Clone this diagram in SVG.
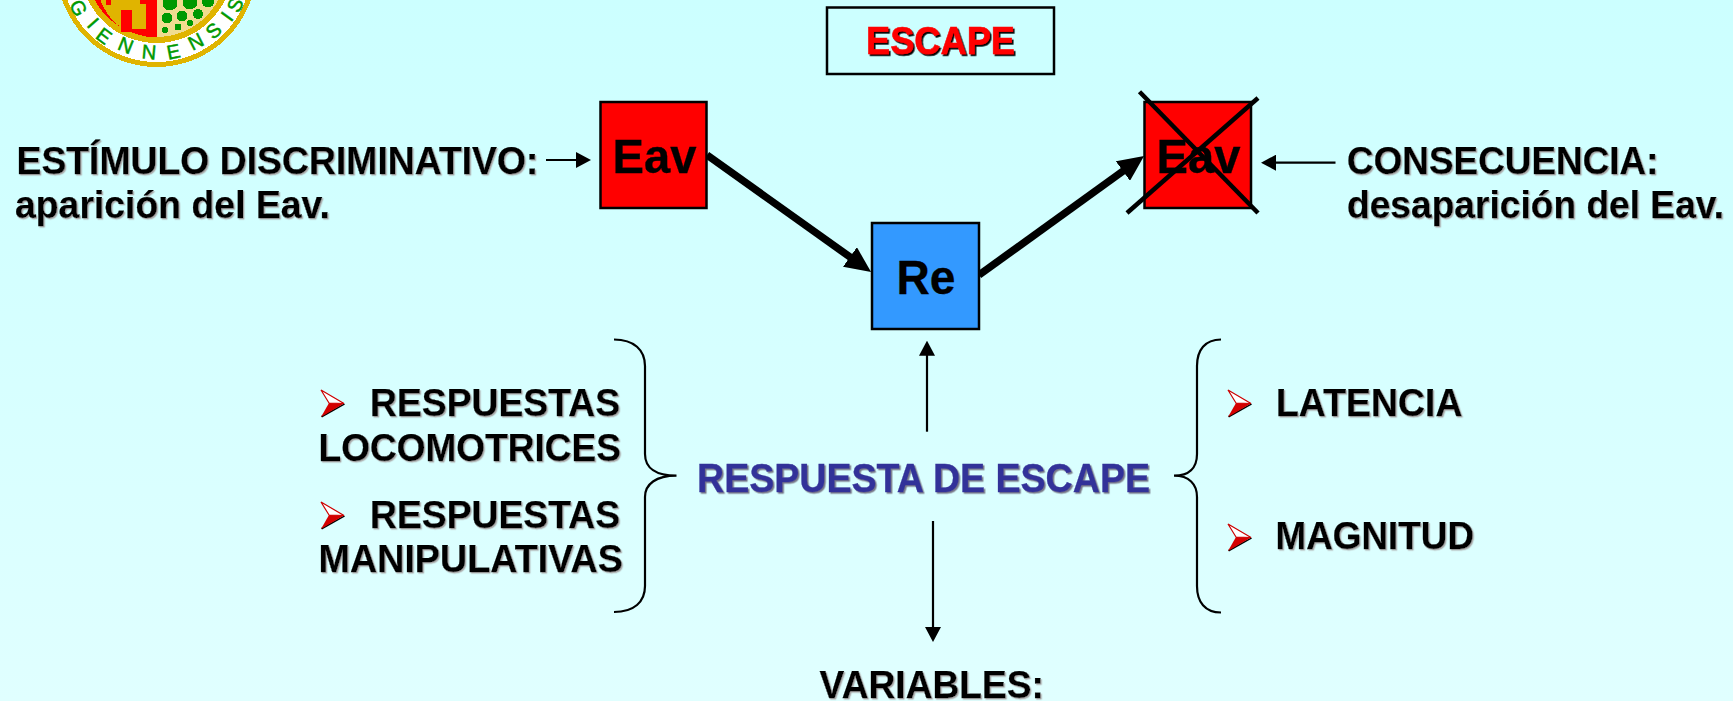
<svg xmlns="http://www.w3.org/2000/svg" width="1733" height="701" viewBox="0 0 1733 701">
<style>
text{font-family:"Liberation Sans",Arial,sans-serif;font-weight:700;fill:#000}
.lab{font-size:39px;stroke:#000;stroke-width:.25;filter:url(#sh)}
.big{font-size:49px;stroke:#000;stroke-width:.3}
.box{stroke:#000;stroke-width:2.5}
.thin{stroke:#000;stroke-width:2.2;fill:none;marker-end:url(#ah)}
.thick{stroke:#000;stroke-width:7.5;fill:none;marker-end:url(#AH)}
.cross{stroke:#000;stroke-width:4.5;fill:none}
.brace{stroke:#000;stroke-width:2.2;fill:none}
.px{shape-rendering:crispEdges}
</style>
<defs>
<linearGradient id="bg" x1="0" y1="0" x2="0" y2="1"><stop offset="0" stop-color="#ccffff"/><stop offset="1" stop-color="#e0ffff"/></linearGradient>
<filter id="sh" x="-5%" y="-10%" width="110%" height="125%"><feDropShadow dx="1.3" dy="1.3" stdDeviation="0.3" flood-color="#aaa"/></filter>
<filter id="shd" x="-5%" y="-10%" width="110%" height="125%"><feDropShadow dx="1.6" dy="1.8" stdDeviation="0.3" flood-color="#000"/></filter>
<filter id="shb" x="-5%" y="-10%" width="110%" height="125%"><feDropShadow dx="1.5" dy="1.5" stdDeviation="0.3" flood-color="#778"/></filter>
<marker id="ah" markerUnits="userSpaceOnUse" viewBox="0 0 15 16" markerWidth="15" markerHeight="16" refX="7.5" refY="8" orient="auto"><path d="M0 0L15 8L0 16z" fill="#000"/></marker>
<marker id="AH" markerUnits="userSpaceOnUse" viewBox="0 0 26 24" markerWidth="26" markerHeight="24" refX="13" refY="12" orient="auto"><path d="M0 0L26 12L0 24z" fill="#000"/></marker>
<g id="bullet">
<path d="M1 27.5L24 14.5L23 13.5L0 26z" fill="#000"/>
<path d="M0 0L23 13.5L8 13z" fill="#fff" stroke="#c00" stroke-width="1.2"/>
<path d="M8 13L23 13.5L0 27z" fill="#d40000"/>
</g>
<clipPath id="lh"><rect x="56" y="-20" width="100.5" height="100"/></clipPath>
<clipPath id="rh"><rect x="156.5" y="-20" width="100" height="100"/></clipPath>
</defs>
<rect width="1733" height="701" fill="url(#bg)"/>
<g id="logo" class="px">
<circle cx="156.5" cy="-33" r="100" fill="#e0b400"/>
<circle cx="156.5" cy="-33" r="95" fill="#fff"/>
<circle cx="156.5" cy="-33" r="76" fill="#e0b400"/>
<circle cx="156.5" cy="-33" r="70" fill="#f0dc90" clip-path="url(#rh)"/>
<circle cx="156.5" cy="-33" r="70" fill="#ff0000" clip-path="url(#lh)"/>
<path d="M98 -6H146.500V29H125Q108 22 98 -6z" fill="#e0b400"/>
<path d="M121 10H132V32H121zM140 0H146V4H140zM106 0H111V5H106z" fill="#f00"/>
<path d="M146 0H156.500V37H146z" fill="#f00"/>
<g fill="#009900">
<circle cx="170" cy="3" r="7.500"/><circle cx="190" cy="2" r="7.500"/><circle cx="208" cy="1" r="6.500"/>
<circle cx="167" cy="18" r="5.500"/><circle cx="182" cy="16" r="5.500"/><circle cx="198" cy="14" r="5"/>
<circle cx="190" cy="23" r="3"/><circle cx="178" cy="27" r="3.500"/><circle cx="165" cy="30" r="3"/>
</g>
<text x="68.700 85.900 94.600 116.400 141.200 168.200 192.400 213.200 231.100 238.500" y="4.200 25.500 37.500 49.100 58.200 59.800 50.900 40.300 22.800 14" rotate="63 49 37 22 5 -11 -27 -42 -54 -64" style="font-size:20px;font-weight:400;fill:#009900;stroke:#009900;stroke-width:.5">GIENNENSIS</text>
</g>
<g id="title">
<rect class="box" x="827" y="7.500" width="227" height="66.500" fill="#ccffff"/>
<text x="866" y="54" textLength="149" lengthAdjust="spacingAndGlyphs" style="font-size:39.500px;fill:#f00;stroke:#f00;stroke-width:.6;filter:url(#shd)">ESCAPE</text>
</g>
<g id="connectors">
<line class="thin" x1="546" y1="160" x2="583.500" y2="160"/>
<line class="thin" x1="1335.500" y1="162.700" x2="1268.500" y2="162.700"/>
<line class="thick" x1="707" y1="155" x2="860.500" y2="264.500"/>
<line class="thick" x1="979" y1="275" x2="1133.500" y2="163.500"/>
<line class="thin" x1="927" y1="431.700" x2="927" y2="348.200"/>
<line class="thin" x1="933" y1="521" x2="933" y2="634.500"/>
<path class="brace" d="M614 339.500C634 339.500 645 350 645 366V454C645 468 656 475.700 676.500 475.700C656 475.700 645 484 645 497V586C645 602 634 612 614 612"/>
<path class="brace" d="M1221 339.500C1205 339.500 1197 350 1197 366V454C1197 468 1189 475.700 1174 475.700C1189 475.700 1197 484 1197 497V586C1197 602 1205 612.500 1221 612.500"/>
</g>
<g id="eav-left">
<rect class="box" x="600.500" y="102" width="106" height="106" fill="#f00"/>
<text class="big" x="612.500" y="172.700" textLength="84" lengthAdjust="spacingAndGlyphs">Eav</text>
</g>
<g id="re">
<rect class="box" x="872" y="223" width="107" height="106" fill="#3399ff"/>
<text class="big" x="896.500" y="294" textLength="59" lengthAdjust="spacingAndGlyphs">Re</text>
</g>
<g id="eav-right">
<rect class="box" x="1144.500" y="102" width="106.500" height="106" fill="#f00"/>
<text class="big" x="1156.500" y="172.700" textLength="84" lengthAdjust="spacingAndGlyphs">Eav</text>
<line class="cross" x1="1139.500" y1="91.700" x2="1258" y2="213"/>
<line class="cross" x1="1258" y1="98" x2="1127" y2="213"/>
</g>
<g id="estimulo">
<text class="lab" x="16.500" y="174" textLength="522" lengthAdjust="spacingAndGlyphs">ESTÍMULO DISCRIMINATIVO:</text>
<text class="lab" x="15" y="218" textLength="315" lengthAdjust="spacingAndGlyphs">aparición del Eav.</text>
</g>
<g id="consecuencia">
<text class="lab" x="1347" y="174" textLength="311.500" lengthAdjust="spacingAndGlyphs">CONSECUENCIA:</text>
<text class="lab" x="1347" y="218.300" textLength="377" lengthAdjust="spacingAndGlyphs" style="font-size:38px">desaparición del Eav.</text>
</g>
<g id="respuestas-loco">
<use href="#bullet" x="321" y="390"/>
<text class="lab" x="370" y="416" textLength="250" lengthAdjust="spacingAndGlyphs">RESPUESTAS</text>
<text class="lab" x="318.500" y="460.700" textLength="302.500" lengthAdjust="spacingAndGlyphs">LOCOMOTRICES</text>
</g>
<g id="respuestas-mani">
<use href="#bullet" x="321" y="502"/>
<text class="lab" x="370" y="527.700" textLength="250" lengthAdjust="spacingAndGlyphs">RESPUESTAS</text>
<text class="lab" x="318.500" y="571.700" textLength="304.500" lengthAdjust="spacingAndGlyphs">MANIPULATIVAS</text>
</g>
<g id="respuesta-escape">
<text x="697" y="492" textLength="453" lengthAdjust="spacingAndGlyphs" style="font-size:40px;fill:#333399;stroke:#333399;stroke-width:.3;filter:url(#shb)">RESPUESTA DE ESCAPE</text>
</g>
<g id="latencia">
<use href="#bullet" x="1228" y="390"/>
<text class="lab" x="1276" y="415.700" textLength="186.500" lengthAdjust="spacingAndGlyphs">LATENCIA</text>
</g>
<g id="magnitud">
<use href="#bullet" x="1228" y="524"/>
<text class="lab" x="1275.500" y="549.300" textLength="198.500" lengthAdjust="spacingAndGlyphs">MAGNITUD</text>
</g>
<g id="variables">
<text class="lab" x="819.600" y="697.700" textLength="224.400" lengthAdjust="spacingAndGlyphs">VARIABLES:</text>
</g>
</svg>
